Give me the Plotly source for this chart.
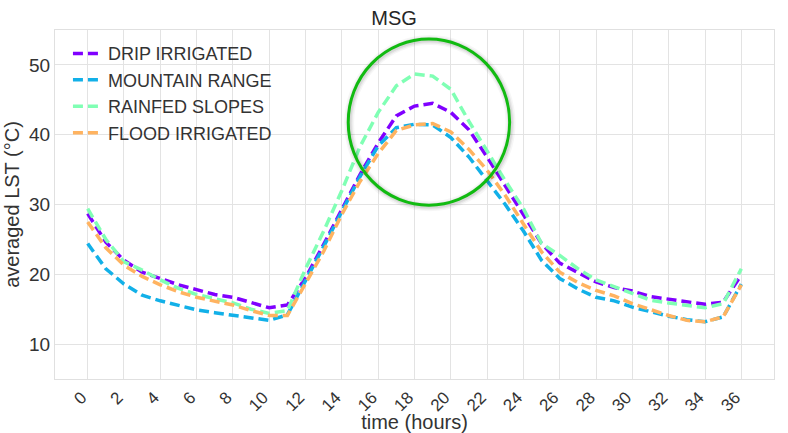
import plotly.graph_objects as go

hours = list(range(0, 37))

drip_irrigated = [28.7, 24.6, 22.0, 20.3, 19.4, 18.5, 17.8, 17.1, 16.7, 15.9, 15.2, 15.6,
                  19.5, 24.3, 29.3, 34.3, 38.8, 42.7, 44.1, 44.5, 43.2, 40.7, 36.8, 32.7,
                  28.4, 24.4, 21.6, 20.2, 18.9, 18.1, 17.6, 16.8, 16.4, 16.0, 15.7, 16.0, 19.9]
mountain_range = [24.4, 20.8, 18.6, 17.0, 16.2, 15.5, 14.9, 14.5, 14.1, 13.8, 13.4, 14.2,
                  19.0, 24.0, 29.0, 34.0, 38.4, 41.0, 41.5, 41.4, 39.6, 36.8, 33.4, 30.0,
                  26.2, 22.0, 19.4, 17.9, 16.7, 16.2, 15.3, 14.6, 14.0, 13.5, 13.2, 13.9, 18.6]
rainfed_slopes = [29.4, 25.0, 21.8, 20.6, 19.2, 18.0, 17.1, 16.5, 15.9, 15.0, 14.4, 14.8,
                  20.8, 26.2, 32.0, 38.3, 43.2, 47.0, 48.7, 48.4, 46.5, 41.9, 37.6, 33.4,
                  29.4, 24.4, 22.7, 20.8, 19.2, 18.2, 17.2, 16.3, 15.9, 15.5, 15.2, 15.8, 20.8]
flood_irrigated = [27.5, 23.8, 21.3, 19.7, 18.5, 17.5, 16.7, 16.1, 15.6, 14.8, 14.1, 14.1,
                   18.6, 23.3, 28.6, 33.3, 37.3, 40.6, 41.4, 41.6, 40.4, 37.9, 34.9, 31.3,
                   27.2, 23.2, 20.3, 18.8, 17.7, 16.9, 15.8, 14.9, 14.1, 13.4, 13.2, 13.9, 18.5]

series_names = ["DRIP IRRIGATED", "MOUNTAIN RANGE", "RAINFED SLOPES", "FLOOD IRRIGATED"]
series_values = [drip_irrigated, mountain_range, rainfed_slopes, flood_irrigated]
series_colors = ["#8000ff", "#12b0e8", "#80ffb4", "#ffb360"]

x_ticks = list(range(0, 37, 2))
y_ticks = [10, 20, 30, 40, 50]

fig = go.Figure()
for name, vals, col in zip(series_names, series_values, series_colors):
    fig.add_trace(go.Scatter(
        x=hours, y=vals, mode="lines", name=name,
        line=dict(color=col, width=3.5, dash="10px,5px"),
    ))

# highlight circle (data coords) with soft shadow
cx0, cx1, cy0, cy1 = 14.35, 23.24, 29.9, 53.7
for w, a in [(10, 0.035), (7, 0.05), (4.5, 0.07)]:
    fig.add_shape(type="circle", xref="x", yref="y", x0=cx0 + 0.05, x1=cx1 + 0.05,
                  y0=cy0 - 0.15, y1=cy1 - 0.15,
                  line=dict(color=f"rgba(0,0,0,{a})", width=w), layer="above")
fig.add_shape(type="circle", xref="x", yref="y", x0=cx0, x1=cx1, y0=cy0, y1=cy1,
              line=dict(color="#11bb11", width=3), layer="above")

font_family = "Liberation Sans, Arial, sans-serif"
fig.update_layout(
    width=788, height=433,
    margin=dict(l=55, r=14, t=30, b=54),
    paper_bgcolor="white", plot_bgcolor="white",
    font=dict(family=font_family, color="#333333"),
    title=dict(text="MSG", x=0.5, xanchor="center", y=0.975, yanchor="top",
               font=dict(size=20, color="#262626")),
    showlegend=True,
    legend=dict(x=0.018, y=0.985, xanchor="left", yanchor="top",
                bgcolor="rgba(0,0,0,0)", font=dict(size=18, color="#333333"),
                tracegroupgap=0),
)
fig.update_xaxes(
    range=[-1.8, 37.8], tickvals=x_ticks, ticktext=[str(t) for t in x_ticks],
    tickangle=-45, tickfont=dict(size=17, color="#333333"),
    ticklabelshift=-6, ticklabelstandoff=1,
    showgrid=True, gridcolor="#e3e3e3", gridwidth=1, zeroline=False,
    showline=True, linecolor="#e0e0e0", linewidth=1, mirror=True,
    title=dict(text="time (hours)", font=dict(size=20, color="#333333"), standoff=0),
    ticks="", ticklen=0, automargin=False,
)
fig.update_yaxes(
    range=[5, 55], tickvals=y_ticks,
    tickfont=dict(size=19, color="#333333"),
    showgrid=True, gridcolor="#e3e3e3", gridwidth=1, zeroline=False,
    showline=True, linecolor="#e0e0e0", linewidth=1, mirror=True,
    title=dict(text="averaged LST (°C)", font=dict(size=20, color="#333333"), standoff=4),
    ticks="", ticklen=0, automargin=False,
)

fig.write_html("out.html")
